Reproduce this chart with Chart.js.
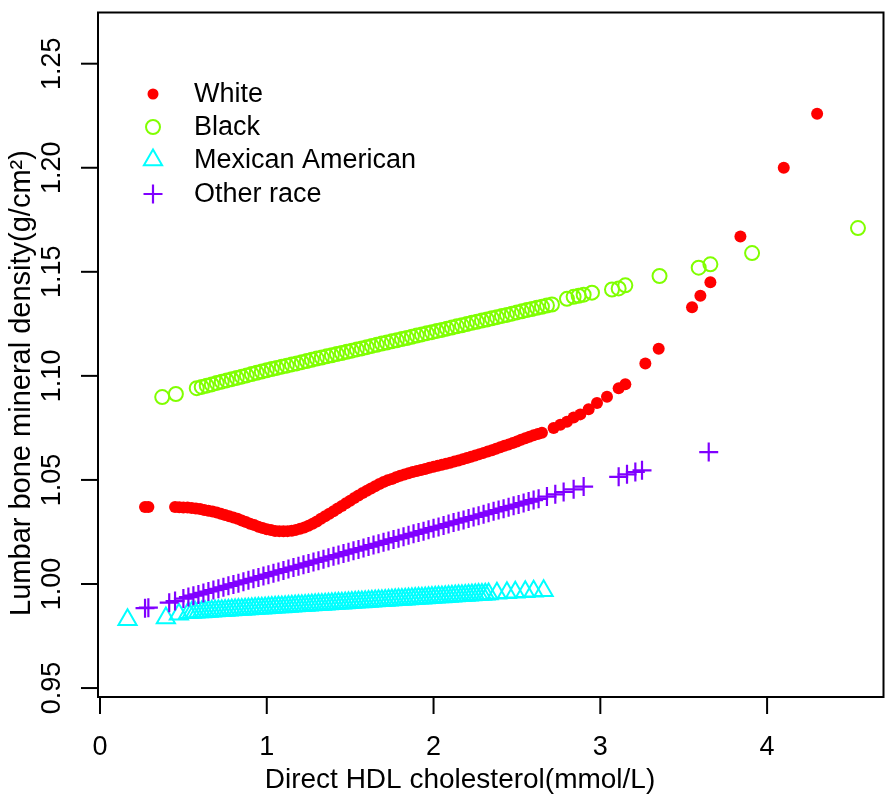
<!DOCTYPE html>
<html>
<head>
<meta charset="utf-8">
<script src="https://cdn.jsdelivr.net/npm/chart.js@4/dist/chart.umd.min.js"></script>
<style>
  html, body { margin: 0; padding: 0; background: #fff; }
  canvas { display: block; }
</style>
</head>
<body>
<canvas id="scatter" width="896" height="799"></canvas>
<script>
// axis ticks
const xTicks = [0, 1, 2, 3, 4];
const yTicks = [0.95, 1.00, 1.05, 1.10, 1.15, 1.20, 1.25];
const yTickLabels = ['0.95', '1.00', '1.05', '1.10', '1.15', '1.20', '1.25'];

const seriesNames = ['White', 'Black', 'Mexican American', 'Other race'];

// White
const whiteX = [0.27, 0.29,
  0.450, 0.475, 0.500, 0.525, 0.550, 0.575, 0.600, 0.625, 0.650, 0.675, 0.700, 0.725, 0.750, 0.775, 0.800,
  0.825, 0.850, 0.875, 0.900, 0.925, 0.950, 0.975, 1.000, 1.025, 1.050, 1.075, 1.100, 1.125, 1.150, 1.175,
  1.200, 1.225, 1.250, 1.275, 1.300, 1.325, 1.350, 1.375, 1.400, 1.425, 1.450, 1.475, 1.500, 1.525, 1.550,
  1.575, 1.600, 1.625, 1.650, 1.675, 1.700, 1.725, 1.750, 1.775, 1.800, 1.825, 1.850, 1.875, 1.900, 1.925,
  1.950, 1.975, 2.000, 2.025, 2.050, 2.075, 2.100, 2.125, 2.150, 2.175, 2.200, 2.225, 2.250, 2.275, 2.300,
  2.325, 2.350, 2.375, 2.400, 2.425, 2.450, 2.475, 2.500, 2.525, 2.550, 2.575, 2.600, 2.625, 2.650,
  2.72, 2.76, 2.80, 2.84, 2.88, 2.93, 2.98, 3.04, 3.11, 3.15, 3.27, 3.35, 3.55, 3.60, 3.66, 3.84, 4.10, 4.30];
const whiteY = [1.037, 1.037,
  1.0370, 1.0369, 1.0368, 1.0367, 1.0365, 1.0363, 1.0360, 1.0356, 1.0352, 1.0348, 1.0343, 1.0338, 1.0332, 1.0326, 1.0320,
  1.0313, 1.0305, 1.0298, 1.0290, 1.0283, 1.0275, 1.0269, 1.0263, 1.0259, 1.0255, 1.0254, 1.0253, 1.0254, 1.0256, 1.0260,
  1.0265, 1.0272, 1.0280, 1.0290, 1.0300, 1.0313, 1.0325, 1.0338, 1.0350, 1.0363, 1.0375, 1.0388, 1.0400, 1.0413, 1.0425,
  1.0437, 1.0448, 1.0459, 1.0470, 1.0480, 1.0490, 1.0498, 1.0505, 1.0513, 1.0520, 1.0526, 1.0532, 1.0538, 1.0543, 1.0548,
  1.0553, 1.0558, 1.0563, 1.0568, 1.0573, 1.0578, 1.0583, 1.0588, 1.0593, 1.0599, 1.0605, 1.0611, 1.0617, 1.0624, 1.0630,
  1.0637, 1.0643, 1.0650, 1.0657, 1.0664, 1.0670, 1.0678, 1.0685, 1.0693, 1.0700, 1.0708, 1.0715, 1.0721, 1.0727,
  1.0750, 1.0765, 1.0780, 1.0800, 1.0815, 1.0840, 1.0870, 1.0900, 1.0940, 1.0960, 1.1060, 1.1130, 1.1330, 1.1385, 1.1450, 1.1670, 1.2000, 1.2260];

// Black
const blackX = [0.373, 0.455,
  0.58, 0.61, 0.64, 0.67, 0.70, 0.73, 0.76, 0.79, 0.82, 0.85, 0.88, 0.91, 0.94, 0.97, 1.00, 1.03, 1.06, 1.09,
  1.12, 1.15, 1.18, 1.21, 1.24, 1.27, 1.30, 1.33, 1.36, 1.39, 1.42, 1.45, 1.48, 1.51, 1.54, 1.57, 1.60, 1.63,
  1.66, 1.69, 1.72, 1.75, 1.78, 1.81, 1.84, 1.87, 1.90, 1.93, 1.96, 1.99, 2.02, 2.05, 2.08, 2.11, 2.14, 2.17,
  2.20, 2.23, 2.26, 2.29, 2.32, 2.35, 2.38, 2.41, 2.44, 2.47, 2.50, 2.53, 2.56, 2.59, 2.62, 2.65, 2.68, 2.71,
  2.80, 2.84, 2.87, 2.90, 2.95, 3.07, 3.11, 3.15, 3.355, 3.59, 3.66, 3.91, 4.545];
const blackY = [1.0898, 1.0913,
  1.0941, 1.0947, 1.0953, 1.0959, 1.0966, 1.0972, 1.0978, 1.0984, 1.0990, 1.0996, 1.1002, 1.1009, 1.1015, 1.1021, 1.1027, 1.1033, 1.1038, 1.1044,
  1.1049, 1.1055, 1.1060, 1.1066, 1.1071, 1.1077, 1.1083, 1.1088, 1.1094, 1.1099, 1.1105, 1.1110, 1.1116, 1.1121, 1.1127, 1.1132, 1.1138, 1.1144,
  1.1149, 1.1155, 1.1160, 1.1166, 1.1171, 1.1177, 1.1182, 1.1188, 1.1194, 1.1199, 1.1205, 1.1210, 1.1216, 1.1221, 1.1227, 1.1232, 1.1238, 1.1243,
  1.1249, 1.1255, 1.1260, 1.1266, 1.1271, 1.1277, 1.1282, 1.1288, 1.1293, 1.1299, 1.1305, 1.1310, 1.1316, 1.1321, 1.1327, 1.1332, 1.1338, 1.1343,
  1.1370, 1.1380, 1.1385, 1.1390, 1.1400, 1.1415, 1.1420, 1.1435, 1.1480, 1.1520, 1.1536, 1.1590, 1.1710];

// Mexican American
const mexicanX = [0.165, 0.395, 0.473,
  0.53, 0.55, 0.57, 0.59, 0.61, 0.63, 0.65, 0.67, 0.69, 0.71, 0.73, 0.75, 0.77, 0.79, 0.81, 0.83, 0.85, 0.87,
  0.89, 0.91, 0.93, 0.95, 0.97, 0.99, 1.01, 1.03, 1.05, 1.07, 1.09, 1.11, 1.13, 1.15, 1.17, 1.19, 1.21, 1.23,
  1.25, 1.27, 1.29, 1.31, 1.33, 1.35, 1.37, 1.39, 1.41, 1.43, 1.45, 1.47, 1.49, 1.51, 1.53, 1.55, 1.57, 1.59,
  1.61, 1.63, 1.65, 1.67, 1.69, 1.71, 1.73, 1.75, 1.77, 1.79, 1.81, 1.83, 1.85, 1.87, 1.89, 1.91, 1.93, 1.95,
  1.97, 1.99, 2.01, 2.03, 2.05, 2.07, 2.09, 2.11, 2.13, 2.15, 2.17, 2.19, 2.21, 2.23, 2.25, 2.27, 2.29, 2.31, 2.33,
  2.38, 2.44, 2.49, 2.55, 2.60, 2.66];
const mexicanY = [0.9828, 0.9836, 0.9855,
  0.9862, 0.9863, 0.9864, 0.9865, 0.9866, 0.9867, 0.9868, 0.9869, 0.9870, 0.9871, 0.9872, 0.9873, 0.9874, 0.9875, 0.9876, 0.9877, 0.9878, 0.9879,
  0.9880, 0.9881, 0.9882, 0.9883, 0.9884, 0.9885, 0.9886, 0.9887, 0.9888, 0.9889, 0.9890, 0.9891, 0.9892, 0.9893, 0.9894, 0.9895, 0.9896, 0.9897,
  0.9898, 0.9899, 0.9900, 0.9901, 0.9902, 0.9903, 0.9904, 0.9905, 0.9906, 0.9907, 0.9908, 0.9909, 0.9910, 0.9911, 0.9912, 0.9913, 0.9914, 0.9915,
  0.9916, 0.9917, 0.9918, 0.9919, 0.9920, 0.9921, 0.9922, 0.9923, 0.9924, 0.9925, 0.9926, 0.9927, 0.9928, 0.9929, 0.9930, 0.9931, 0.9932, 0.9933,
  0.9934, 0.9935, 0.9936, 0.9937, 0.9938, 0.9939, 0.9940, 0.9941, 0.9942, 0.9943, 0.9944, 0.9945, 0.9946, 0.9947, 0.9948, 0.9949, 0.9950, 0.9951, 0.9952,
  0.9955, 0.9958, 0.9960, 0.9963, 0.9965, 0.9968];

// Other race
const otherX = [0.27, 0.29, 0.415, 0.45,
  0.50, 0.53, 0.56, 0.59, 0.62, 0.65, 0.68, 0.71, 0.74, 0.77, 0.80, 0.83, 0.86, 0.89, 0.92, 0.95, 0.98, 1.01,
  1.04, 1.07, 1.10, 1.13, 1.16, 1.19, 1.22, 1.25, 1.28, 1.31, 1.34, 1.37, 1.40, 1.43, 1.46, 1.49, 1.52, 1.55,
  1.58, 1.61, 1.64, 1.67, 1.70, 1.73, 1.76, 1.79, 1.82, 1.85, 1.88, 1.91, 1.94, 1.97, 2.00, 2.03, 2.06, 2.09,
  2.12, 2.15, 2.18, 2.21, 2.24, 2.27, 2.30, 2.33, 2.36, 2.39, 2.42, 2.45, 2.48, 2.51, 2.54, 2.57, 2.60, 2.63,
  2.68, 2.73, 2.78, 2.84, 2.90, 3.11, 3.16, 3.21, 3.25, 3.65];
const otherY = [0.9884, 0.9886, 0.9910, 0.9918,
  0.9930, 0.9937, 0.9944, 0.9950, 0.9957, 0.9964, 0.9971, 0.9977, 0.9984, 0.9991, 0.9998, 1.0004, 1.0011, 1.0018, 1.0025, 1.0031, 1.0038, 1.0045,
  1.0052, 1.0058, 1.0065, 1.0072, 1.0079, 1.0085, 1.0092, 1.0099, 1.0106, 1.0112, 1.0119, 1.0126, 1.0133, 1.0139, 1.0146, 1.0153, 1.0160, 1.0166,
  1.0173, 1.0180, 1.0187, 1.0193, 1.0200, 1.0207, 1.0214, 1.0220, 1.0227, 1.0234, 1.0241, 1.0247, 1.0254, 1.0261, 1.0268, 1.0274, 1.0281, 1.0288,
  1.0295, 1.0301, 1.0308, 1.0315, 1.0322, 1.0328, 1.0335, 1.0342, 1.0349, 1.0355, 1.0362, 1.0369, 1.0376, 1.0382, 1.0389, 1.0396, 1.0403, 1.0409,
  1.0420, 1.0431, 1.0442, 1.0455, 1.0468, 1.0515, 1.0527, 1.0538, 1.0546, 1.0634];

const toPoints = (xs, ys) => xs.map((v, i) => ({ x: v, y: ys[i] }));

const FONT = "'Liberation Sans', Arial, Helvetica, sans-serif";
const colors = ['#FF0000', '#80FF00', '#00FFFF', '#8000FF'];

// frame, ticks, labels, titles and legend (R base graphics look)
const framePlugin = {
  id: 'framePlugin',
  afterDraw(chart) {
    const { ctx, chartArea: a, scales } = chart;
    const xs = scales.x, ys = scales.y;
    ctx.save();
    ctx.strokeStyle = '#000';
    ctx.lineWidth = 2;
    ctx.strokeRect(a.left, a.top, a.right - a.left, a.bottom - a.top);

    ctx.fillStyle = '#000';
    ctx.font = '27px ' + FONT;
    ctx.textAlign = 'center';
    ctx.textBaseline = 'middle';
    xTicks.forEach(v => {
      const px = xs.getPixelForValue(v);
      ctx.beginPath();
      ctx.moveTo(px, a.bottom);
      ctx.lineTo(px, a.bottom + 17);
      ctx.stroke();
      ctx.fillText(String(v), px, 748);
    });
    yTicks.forEach((v, i) => {
      const py = ys.getPixelForValue(v);
      ctx.beginPath();
      ctx.moveTo(a.left - 17, py);
      ctx.lineTo(a.left, py);
      ctx.stroke();
      ctx.save();
      ctx.translate(53, py);
      ctx.rotate(-Math.PI / 2);
      ctx.fillText(yTickLabels[i], 0, 0);
      ctx.restore();
    });

    ctx.font = '28px ' + FONT;
    ctx.fillText('Direct HDL cholesterol(mmol/L)', 460, 780);
    ctx.save();
    ctx.translate(22, 383);
    ctx.rotate(-Math.PI / 2);
    ctx.font = '29px ' + FONT;
    ctx.fillText('Lumbar bone mineral density(g/cm\u00B2)', 0, 0);
    ctx.restore();

    // legend
    const legendY = [94, 127, 160, 194];
    ctx.font = '27px ' + FONT;
    ctx.textAlign = 'left';
    seriesNames.forEach((name, i) => {
      const cx = 153, cy = legendY[i];
      ctx.strokeStyle = colors[i];
      ctx.fillStyle = colors[i];
      ctx.lineWidth = 2;
      ctx.beginPath();
      if (i === 0) {
        ctx.arc(cx, cy, 5.5, 0, Math.PI * 2);
        ctx.fill();
      } else if (i === 1) {
        ctx.arc(cx, cy, 7, 0, Math.PI * 2);
        ctx.stroke();
      } else if (i === 2) {
        const r = 10.5;
        ctx.moveTo(cx, cy - r);
        ctx.lineTo(cx + r * 0.866, cy + r * 0.5);
        ctx.lineTo(cx - r * 0.866, cy + r * 0.5);
        ctx.closePath();
        ctx.stroke();
      } else {
        ctx.lineWidth = 2.2;
        ctx.moveTo(cx - 9.5, cy);
        ctx.lineTo(cx + 9.5, cy);
        ctx.moveTo(cx, cy - 9.5);
        ctx.lineTo(cx, cy + 9.5);
        ctx.stroke();
      }
      ctx.fillStyle = '#000';
      ctx.fillText(name, 194, cy + 1);
    });
    ctx.restore();
  }
};

new Chart(document.getElementById('scatter'), {
  type: 'scatter',
  data: {
    datasets: [
      {
        label: seriesNames[0],
        data: toPoints(whiteX, whiteY),
        pointStyle: 'circle',
        pointRadius: 6,
        backgroundColor: colors[0],
        borderColor: colors[0],
        borderWidth: 0,
        order: 4
      },
      {
        label: seriesNames[1],
        data: toPoints(blackX, blackY),
        pointStyle: 'circle',
        pointRadius: 7,
        backgroundColor: 'rgba(0,0,0,0)',
        borderColor: colors[1],
        borderWidth: 2,
        order: 3
      },
      {
        label: seriesNames[2],
        data: toPoints(mexicanX, mexicanY),
        pointStyle: 'triangle',
        pointRadius: 10.5,
        backgroundColor: 'rgba(0,0,0,0)',
        borderColor: colors[2],
        borderWidth: 2,
        order: 2
      },
      {
        label: seriesNames[3],
        data: toPoints(otherX, otherY),
        pointStyle: 'cross',
        pointRadius: 9.5,
        borderColor: colors[3],
        borderWidth: 2.2,
        order: 1
      }
    ]
  },
  options: {
    responsive: false,
    animation: false,
    devicePixelRatio: 1,
    layout: { padding: { left: 98, top: 1, right: 2, bottom: 102 } },
    scales: {
      x: { type: 'linear', display: false, min: -0.012, max: 4.698 },
      y: { type: 'linear', display: false, min: 0.9457, max: 1.2746 }
    },
    plugins: {
      legend: { display: false },
      tooltip: { enabled: false }
    }
  },
  plugins: [framePlugin]
});
</script>
</body>
</html>
